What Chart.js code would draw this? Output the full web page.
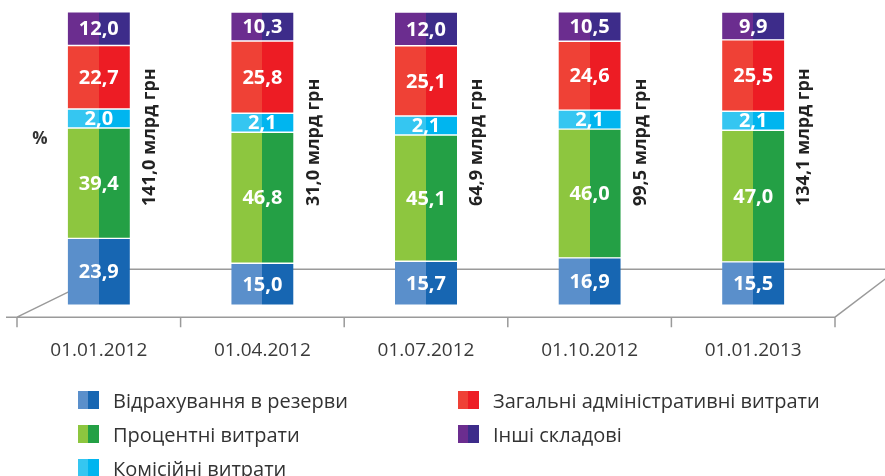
<!DOCTYPE html>
<html>
<head>
<meta charset="utf-8">
<script src="https://cdn.jsdelivr.net/npm/chart.js@4.4.1/dist/chart.umd.min.js"></script>
<style>
  html, body { margin: 0; padding: 0; background: #fff; }
  #wrap { position: relative; width: 885px; height: 476px; overflow: hidden; }
  #legend {
    position: absolute; left: 78px; top: 383px;
    display: grid; grid-auto-flow: column;
    grid-template-rows: repeat(3, 34px); grid-template-columns: 380px auto;
    font-family: "Open Sans", "Noto Sans", sans-serif; font-size: 20px; color: #333;
  }
  .item { display: flex; align-items: center; white-space: nowrap; }
  .sw { width: 21px; height: 18px; margin-right: 14px; flex: none; }
</style>
</head>
<body>
<div id="wrap">
  <canvas id="c" width="885" height="476"></canvas>
  <div id="legend"></div>
</div>
<script>
const categories = ['01.01.2012', '01.04.2012', '01.07.2012', '01.10.2012', '01.01.2013'];
const provisions = [23.9, 15.0, 15.7, 16.9, 15.5];
const interest = [39.4, 46.8, 45.1, 46.0, 47.0];
const commission = [2.0, 2.1, 2.1, 2.1, 2.1];
const admin = [22.7, 25.8, 25.1, 24.6, 25.5];
const other = [12.0, 10.3, 12.0, 10.5, 9.9];
const totals = [141.0, 31.0, 64.9, 99.5, 134.1];
const seriesNames = ['Відрахування в резерви', 'Процентні витрати', 'Комісійні витрати',
  'Загальні адміністративні витрати', 'Інші складові'];

const BAR_W = 62;
const FONT = '"Open Sans", "Noto Sans", sans-serif';

// light (left half) and dark (right half) of each series
const tones = [
  ['#5a8fcb', '#1766b2'],
  ['#8dc63f', '#24a045'],
  ['#35c6f1', '#00b5ef'],
  ['#ef4136', '#ed1c24'],
  ['#6b2d8f', '#3d2c8a']
];

function twoTone(light, dark) {
  return function(ctx) {
    const chart = ctx.chart;
    if (!chart.chartArea || ctx.type !== 'data') return dark;
    const x = chart.scales.x.getPixelForValue(ctx.dataIndex);
    const g = chart.ctx.createLinearGradient(x - BAR_W / 2, 0, x + BAR_W / 2, 0);
    g.addColorStop(0, light);
    g.addColorStop(0.5, light);
    g.addColorStop(0.5, dark);
    g.addColorStop(1, dark);
    return g;
  };
}

function fmt(v) {
  return v.toFixed(1).replace('.', ',');
}

const seriesData = [provisions, interest, commission, admin, other];

const datasets = seriesData.map(function(values, i) {
  return {
    label: seriesNames[i],
    data: values,
    backgroundColor: twoTone(tones[i][0], tones[i][1]),
    borderColor: '#ffffff',
    borderWidth: {top: 1, bottom: 1, left: 0, right: 0},
    borderSkipped: false,
    barThickness: BAR_W,
    minBarLength: 19,
    clip: false
  };
});

// floor, segment labels, totals and the % sign
const decor = {
  id: 'decor',
  beforeDatasetsDraw(chart) {
    const ctx = chart.ctx;
    const area = chart.chartArea;
    const yFront = area.bottom + 12;
    const yBack = area.bottom - 36;
    ctx.save();
    ctx.strokeStyle = '#9a9a9a';
    ctx.lineWidth = 1.5;
    ctx.beginPath();
    ctx.moveTo(area.left - 11, yFront);
    ctx.lineTo(area.right, yFront);
    ctx.moveTo(area.left, yFront);
    ctx.lineTo(area.left + 98, yBack);
    ctx.lineTo(chart.width, yBack);
    ctx.moveTo(area.right, yFront);
    ctx.lineTo(area.right + 63, yBack);
    const step = (area.right - area.left) / categories.length;
    for (let i = 0; i <= categories.length; i++) {
      const x = area.left + i * step;
      ctx.moveTo(x, yFront);
      ctx.lineTo(x, yFront + 10);
    }
    ctx.stroke();
    ctx.restore();
  },
  afterDatasetsDraw(chart) {
    const ctx = chart.ctx;
    ctx.save();
    ctx.fillStyle = '#ffffff';
    ctx.font = 'bold 20px ' + FONT;
    ctx.textAlign = 'center';
    ctx.textBaseline = 'middle';
    chart.data.datasets.forEach(function(ds, di) {
      const meta = chart.getDatasetMeta(di);
      meta.data.forEach(function(bar, i) {
        let bottom = bar.base;
        if (di > 0) {
          bottom = Math.min(bottom, chart.getDatasetMeta(di - 1).data[i].y);
        }
        ctx.fillText(fmt(ds.data[i]), bar.x, (bar.y + bottom) / 2 + 1);
      });
    });

    ctx.fillStyle = '#222';
    ctx.font = 'bold 18px ' + FONT;
    ctx.textAlign = 'left';
    const first = chart.getDatasetMeta(0).data;
    first.forEach(function(bar, i) {
      ctx.save();
      ctx.translate(bar.x + BAR_W / 2 + 20, 206);
      ctx.rotate(-Math.PI / 2);
      ctx.fillText(fmt(totals[i]) + ' млрд грн', 0, 0);
      ctx.restore();
    });

    ctx.fillStyle = '#333';
    ctx.font = 'bold 17px ' + FONT;
    ctx.textAlign = 'center';
    ctx.fillText('%', chart.chartArea.left + 23, 139);
    ctx.restore();
  }
};

const chart = new Chart(document.getElementById('c'), {
  type: 'bar',
  data: {labels: categories, datasets: datasets},
  options: {
    responsive: false,
    animation: false,
    layout: {padding: {left: 17, right: 50, top: 25, bottom: 80}},
    plugins: {legend: {display: false}, tooltip: {enabled: false}},
    scales: {
      x: {
        stacked: true,
        border: {display: false},
        grid: {display: false, drawTicks: false},
        ticks: {
          padding: 34,
          maxRotation: 0,
          color: '#3a3a3a',
          font: {family: FONT, size: 19}
        }
      },
      y: {
        stacked: true,
        display: false,
        min: 0,
        max: 100.1
      }
    }
  },
  plugins: [decor]
});

// legend in two columns
const legend = document.getElementById('legend');
chart.data.datasets.forEach(function(ds, i) {
  const item = document.createElement('div');
  item.className = 'item';
  const sw = document.createElement('span');
  sw.className = 'sw';
  sw.style.background = 'linear-gradient(to right, ' + tones[i][0] + ' 50%, ' + tones[i][1] + ' 50%)';
  item.appendChild(sw);
  item.appendChild(document.createTextNode(ds.label));
  legend.appendChild(item);
});
</script>
</body>
</html>
